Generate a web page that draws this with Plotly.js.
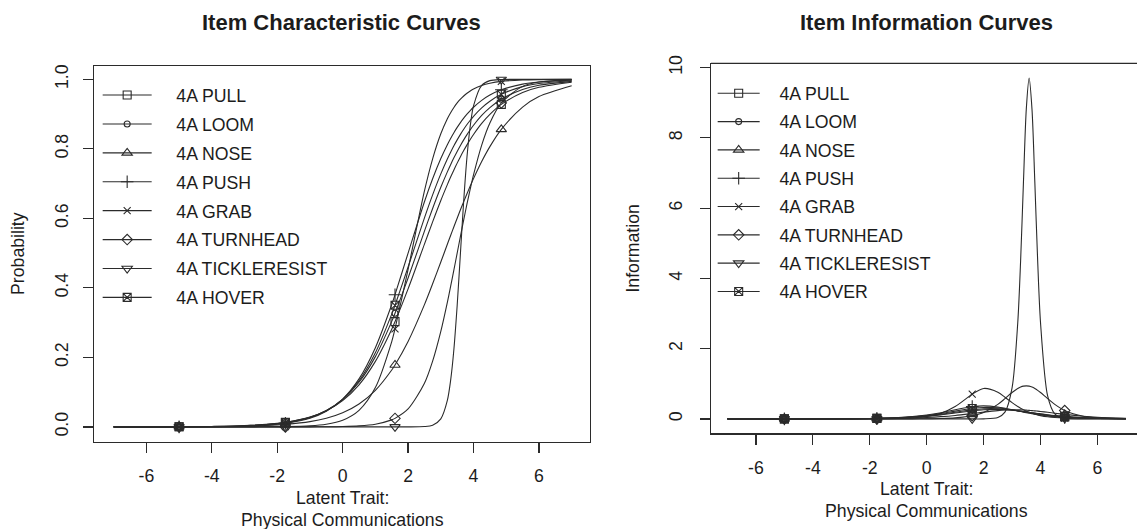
<!DOCTYPE html>
<html>
<head>
<meta charset="utf-8">
<script src="https://cdn.plot.ly/plotly-3.0.1.min.js"></script>
<style>
  html, body { margin: 0; padding: 0; background: #ffffff; }
  #chart { width: 1137px; height: 529px; }
</style>
</head>
<body>
<div id="chart"></div>
<script>
// ---------- data ----------
var itemNames = ["4A PULL", "4A LOOM", "4A NOSE", "4A PUSH", "4A GRAB", "4A TURNHEAD", "4A TICKLERESIST", "4A HOVER"];
var itemSymbols = ["square-open", "circle-open", "triangle-up-open", "cross-thin-open", "x-thin-open", "diamond-open", "triangle-down-open", "square-x-open"];

// latent trait values at which the curves were read
var theta = [-7, -6, -5, -4, -3, -2, -1.75, -1, -0.5, 0, 0.5, 1, 1.5, 1.6, 2, 2.5, 2.75, 3, 3.2, 3.3, 3.4, 3.5, 3.6, 3.7, 3.8, 3.9, 4, 4.25, 4.5, 4.85, 5.5, 6, 7];
// trait values where the plotting symbols sit on each curve
var markerTheta = [-5, -1.75, 1.6, 4.85];

// Item characteristic curves (probability)
var iccPull     = [0.0001,0.0002,0.0004,0.0013,0.0036,0.0101,0.013,0.028,0.0463,0.0756,0.1211,0.1885,0.2811,0.3028,0.3972,0.526,0.59,0.6516,0.6972,0.7189,0.7394,0.759,0.7776,0.795,0.8115,0.8271,0.8414,0.8733,0.8993,0.9279,0.9621,0.9771,0.9918];
var iccLoom     = [0,0.0001,0.0004,0.0011,0.0033,0.0097,0.0127,0.0281,0.0474,0.0789,0.1284,0.2022,0.3036,0.3272,0.4286,0.5634,0.6285,0.6894,0.7339,0.7545,0.7741,0.7925,0.8098,0.8259,0.841,0.8549,0.8679,0.8961,0.9187,0.943,0.971,0.9829,0.9942];
var iccNose     = [0,0.0001,0.0003,0.0007,0.002,0.0055,0.0071,0.0151,0.0249,0.0407,0.066,0.1053,0.1638,0.1782,0.2459,0.3518,0.4118,0.4745,0.5255,0.5508,0.5758,0.6005,0.6247,0.6482,0.6711,0.6932,0.7144,0.7635,0.8064,0.8561,0.9202,0.9505,0.9815];
var iccPush     = [0,0.0001,0.0002,0.0007,0.0022,0.0075,0.0102,0.0251,0.0452,0.0802,0.1382,0.2279,0.3521,0.3804,0.5,0.6479,0.714,0.7721,0.8121,0.8301,0.8466,0.8618,0.8757,0.8883,0.8998,0.9103,0.9198,0.9396,0.9548,0.97,0.9862,0.9925,0.9978];
var iccGrab     = [0,0,0,0,0.0001,0.0005,0.0007,0.003,0.0077,0.0193,0.0478,0.1133,0.2456,0.282,0.4534,0.6788,0.7713,0.8433,0.8867,0.9042,0.9191,0.9321,0.943,0.9522,0.9601,0.9666,0.9722,0.9824,0.9889,0.9942,0.9983,0.9993,0.9999];
var iccTurnhead = [0,0,0,0,0,0,0,0.0002,0.0004,0.0011,0.003,0.0078,0.0202,0.0245,0.0517,0.1256,0.1892,0.2749,0.3585,0.4042,0.4517,0.5,0.5483,0.5958,0.6415,0.6848,0.7251,0.8108,0.8744,0.9321,0.9798,0.9922,0.9989];
var iccTickle   = [0,0,0,0,0,0,0,0,0,0,0,0,0,0,0,0.0011,0.005,0.0233,0.0764,0.1337,0.2234,0.3491,0.5,0.6509,0.7766,0.8663,0.9236,0.9829,0.9963,0.9996,1,1,1];
var iccHover    = [0,0.0001,0.0003,0.0009,0.0028,0.0087,0.0115,0.0267,0.0464,0.0794,0.1326,0.2134,0.3245,0.35,0.46,0.6016,0.6678,0.7281,0.771,0.7905,0.8089,0.8259,0.8418,0.8564,0.87,0.8824,0.8938,0.918,0.9371,0.957,0.9791,0.9881,0.9962];

// Item information curves
var infPull     = [0.0001,0.0002,0.0005,0.0014,0.0039,0.0108,0.014,0.0296,0.048,0.076,0.1158,0.1664,0.2198,0.2296,0.2605,0.2712,0.2631,0.2469,0.2296,0.2198,0.2096,0.199,0.1881,0.1773,0.1664,0.1556,0.1452,0.1204,0.0985,0.0728,0.0397,0.0243,0.0088];
var infLoom     = [0.0001,0.0001,0.0005,0.0013,0.0039,0.0113,0.0147,0.0322,0.0532,0.0855,0.1317,0.1899,0.2489,0.2591,0.2883,0.2895,0.2748,0.252,0.2299,0.218,0.2058,0.1935,0.1813,0.1692,0.1574,0.146,0.1349,0.1096,0.0879,0.0633,0.0331,0.0198,0.0068];
var infNose     = [0,0.0001,0.0003,0.0007,0.0021,0.0057,0.0073,0.0154,0.0252,0.0405,0.064,0.0978,0.1422,0.1521,0.1926,0.2368,0.2515,0.2589,0.2589,0.2569,0.2536,0.2491,0.2435,0.2368,0.2292,0.2208,0.2119,0.1875,0.1621,0.1279,0.0762,0.0489,0.0189];
var infPush     = [0,0.0001,0.0003,0.001,0.0033,0.0111,0.015,0.0364,0.0642,0.1098,0.1773,0.2619,0.3395,0.3508,0.3721,0.3395,0.3039,0.2619,0.2271,0.2099,0.1933,0.1773,0.162,0.1477,0.1342,0.1215,0.1098,0.0845,0.0642,0.0433,0.0203,0.0111,0.0033];
var infGrab     = [0,0,0,0,0.0003,0.0016,0.0026,0.0105,0.0267,0.0662,0.1592,0.3513,0.6479,0.708,0.8666,0.7624,0.6168,0.4621,0.3513,0.3029,0.26,0.2213,0.188,0.1592,0.134,0.1129,0.0945,0.0605,0.0384,0.0202,0.006,0.0024,0.0003];
var infTurnhead = [0,0,0,0,0,0,0,0.0006,0.0016,0.0041,0.0113,0.0291,0.0745,0.09,0.1845,0.4133,0.5773,0.7502,0.8656,0.9063,0.9321,0.9409,0.9321,0.9063,0.8656,0.8124,0.7502,0.5773,0.4133,0.2382,0.0745,0.0291,0.0041];
var infTickle   = [0,0,0,0,0,0,0,0,0,0,0,0,0,0,0.0018,0.0411,0.1931,0.8832,2.7385,4.4951,6.7333,8.8188,9.7025,8.8188,6.7333,4.4951,2.7385,0.6523,0.1431,0.0159,0.0003,0,0];
var infHover    = [0,0.0001,0.0004,0.0012,0.0037,0.0113,0.0149,0.0341,0.058,0.0958,0.1508,0.2201,0.2874,0.2983,0.3257,0.3142,0.2908,0.2595,0.2315,0.2171,0.2027,0.1885,0.1746,0.1612,0.1483,0.136,0.1244,0.0987,0.0773,0.0539,0.0268,0.0154,0.005];

var xTickVals = [-6, -4, -2, 0, 2, 4, 6];
var xTickText = ["-6", "-4", "-2", "0", "2", "4", "6"];
var probTickVals = [0, 0.2, 0.4, 0.6, 0.8, 1.0];
var probTickText = ["0.0", "0.2", "0.4", "0.6", "0.8", "1.0"];
var infoTickVals = [0, 2, 4, 6, 8, 10];
var infoTickText = ["0", "2", "4", "6", "8", "10"];

var iccSeries = [iccPull, iccLoom, iccNose, iccPush, iccGrab, iccTurnhead, iccTickle, iccHover];
var infSeries = [infPull, infLoom, infNose, infPush, infGrab, infTurnhead, infTickle, infHover];

// ---------- styling ----------
var INK = "#2b2b2b";
var TXT = "#1c1c1c";
var FONT = "Liberation Sans, Arial, sans-serif";
var FS = 17.7;
var markerSizes = [8, 6, 9, 9, 7, 8, 9, 8];

// pad legend labels so the text sits further from the symbol, as in R's legend
function pad(n, s) { var p = ""; for (var i = 0; i < n; i++) p += "\u00a0"; return p + s; }

var traces = [];
function addPanel(series, xa, ya, legendId, prefix, nPad) {
  for (var i = 0; i < series.length; i++) {
    var ys = series[i];
    var mx = [], my = [];
    for (var k = 0; k < markerTheta.length; k++) {
      var idx = theta.indexOf(markerTheta[k]);
      mx.push(theta[idx]); my.push(ys[idx]);
    }
    var grp = prefix + i;
    traces.push({
      type: "scatter", mode: "lines", x: theta, y: ys, xaxis: xa, yaxis: ya,
      line: { color: INK, width: 1.1, shape: "spline", smoothing: 0.8 },
      legend: legendId, legendgroup: grp, showlegend: false, hoverinfo: "skip"
    });
    traces.push({
      type: "scatter", mode: "markers", x: mx, y: my, xaxis: xa, yaxis: ya,
      marker: { symbol: itemSymbols[i], size: markerSizes[i], color: INK, line: { color: INK, width: 1.1 } },
      legend: legendId, legendgroup: grp, showlegend: false, name: itemNames[i]
    });
    // legend entry (line with its symbol)
    traces.push({
      type: "scatter", mode: "lines+markers", x: [null], y: [null], xaxis: xa, yaxis: ya,
      name: pad(nPad, itemNames[i]),
      line: { color: INK, width: 1.1 },
      marker: { symbol: itemSymbols[i], size: markerSizes[i], color: INK, line: { color: INK, width: 1.1 } },
      legend: legendId, legendgroup: grp, showlegend: true
    });
  }
}
addPanel(iccSeries, "x", "y", "legend", "icc", 4);
addPanel(infSeries, "x2", "y2", "legend2", "inf", 3);

function axisBase() {
  return {
    showgrid: false, zeroline: false, showline: true, linecolor: INK, linewidth: 1.2,
    ticks: "outside", ticklen: 10, tickwidth: 1.2, tickcolor: INK,
    tickfont: { family: FONT, size: FS, color: TXT },
    fixedrange: true
  };
}

// note: ticklabelstandoff must be an integer
var xa1 = Object.assign(axisBase(), {
  domain: [0.0827, 0.5189], range: [-7.6, 7.56], tickvals: xTickVals, ticktext: xTickText, mirror: true, anchor: "y",
  ticklabelstandoff: 8
});
var ya1 = Object.assign(axisBase(), {
  domain: [0.1654, 0.8756], range: [-0.042, 1.039], tickvals: probTickVals, ticktext: probTickText, tickangle: -90,
  mirror: true, anchor: "x", ticklabelstandoff: 8,
  title: { text: "Probability", font: { family: FONT, size: FS, color: TXT }, standoff: 22 }
});
var xa2 = Object.assign(axisBase(), {
  domain: [0.6253, 1.0], range: [-7.58, 7.39], tickvals: xTickVals, ticktext: xTickText, anchor: "y2",
  ticklabelstandoff: 8
});
var ya2 = Object.assign(axisBase(), {
  domain: [0.1809, 0.8801], range: [-0.41, 10.12], tickvals: infoTickVals, ticktext: infoTickText, tickangle: -90, anchor: "x2",
  ticklabelstandoff: 11,
  title: { text: "Information", font: { family: FONT, size: FS, color: TXT }, standoff: 21 }
});

var legendBase = {
  bgcolor: "rgba(0,0,0,0)", borderwidth: 0, xanchor: "left", yanchor: "top",
  xref: "paper", yref: "paper", traceorder: "grouped",
  font: { family: FONT, size: FS, color: TXT }
};
var lg1 = Object.assign({}, legendBase, { x: 0.0859, y: 0.8544, itemwidth: 49, tracegroupgap: 2.9 });
var lg2 = Object.assign({}, legendBase, { x: 0.6268, y: 0.8577, itemwidth: 42, tracegroupgap: 2.3 });

function textNote(txt, xpx, ypx, size) {
  return { text: txt, xref: "paper", yref: "paper", x: xpx / 1137, y: 1 - ypx / 529,
    xanchor: "center", yanchor: "middle", showarrow: false, font: { family: FONT, size: size, color: TXT } };
}

var layout = {
  width: 1137, height: 529,
  margin: { l: 0, r: 0, t: 0, b: 0, pad: 0 },
  paper_bgcolor: "#ffffff", plot_bgcolor: "#ffffff",
  font: { family: FONT, color: TXT },
  showlegend: true,
  xaxis: xa1, yaxis: ya1, xaxis2: xa2, yaxis2: ya2,
  legend: lg1, legend2: lg2,
  annotations: [
    textNote("<b>Item Characteristic Curves</b>", 341.7, 23, 22),
    textNote("<b>Item Information Curves</b>", 926, 23, 22),
    // x-axis titles (two lines each, as in the reference)
    textNote("Latent Trait:", 342, 498, FS),
    textNote("Physical Communications", 342, 519.5, FS),
    textNote("Latent Trait:", 926, 489, FS),
    textNote("Physical Communications", 926, 511, FS)
  ],
  shapes: [
    { type: "line", xref: "x2 domain", yref: "y2 domain", x0: 0, x1: 1.02, y0: 1, y1: 1,
      line: { color: INK, width: 1.2 } }
  ]
};

Plotly.newPlot("chart", traces, layout, { staticPlot: true, displayModeBar: false });
</script>
</body>
</html>
